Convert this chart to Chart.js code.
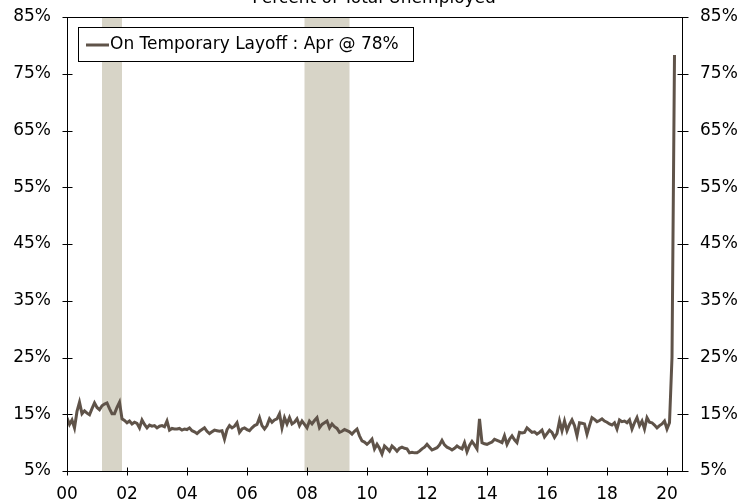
<!DOCTYPE html>
<html>
<head>
<meta charset="utf-8">
<script src="https://cdn.jsdelivr.net/npm/chart.js@4.4.1/dist/chart.umd.min.js"></script>
<style>
  html, body { margin: 0; padding: 0; background: #fff; }
  #wrap { width: 748px; height: 501px; }
</style>
</head>
<body>
<div id="wrap"><canvas id="layoffChart" width="748" height="501"></canvas></div>
<script>
// Temporary layoffs, percent of total unemployed, monthly from Jan 2000
const startYear = 2000;
const layoffShare = [
  14.4, 13.2, 14.0, 12.6, 15.5, 17.1, 15.1, 15.6, 15.2, 14.9, 16.0, 17.0, // 2000
  16.2, 15.8, 16.5, 16.8, 17.0, 16.0, 15.1, 15.1, 16.2, 17.1, 14.2, 13.9, // 2001
  13.5, 13.8, 13.3, 13.6, 13.4, 12.6, 14.0, 13.2, 12.6, 13.1, 12.9, 13.0, // 2002
  12.6, 12.9, 13.0, 12.8, 13.8, 12.2, 12.5, 12.4, 12.4, 12.5, 12.2, 12.4, // 2003
  12.3, 12.6, 12.1, 11.9, 11.6, 12.0, 12.3, 12.6, 12.0, 11.6, 11.9, 12.2, // 2004
  12.1, 12.0, 12.1, 10.6, 12.3, 13.0, 12.6, 12.9, 13.5, 11.8, 12.4, 12.6, // 2005
  12.3, 12.1, 12.6, 13.0, 13.2, 14.4, 13.0, 12.4, 13.0, 14.2, 13.6, 14.0, // 2006
  14.2, 15.1, 12.6, 14.4, 13.3, 14.4, 13.3, 13.6, 14.2, 13.0, 13.8, 13.2, // 2007
  12.6, 13.8, 13.3, 13.9, 14.4, 12.6, 13.2, 13.5, 13.8, 12.6, 13.3, 12.8, // 2008
  12.5, 11.8, 12.0, 12.3, 12.1, 11.9, 11.5, 12.0, 12.4, 11.2, 10.3, 10.1, // 2009
  9.7, 10.1, 10.6, 8.9, 9.7, 9.0, 8.0, 9.4, 9.0, 8.5, 9.4, 9.0,           // 2010
  8.5, 9.0, 9.2, 9.0, 8.9, 8.2, 8.3, 8.2, 8.2, 8.5, 8.9, 9.2,             // 2011
  9.7, 9.2, 8.7, 8.9, 9.1, 9.6, 10.4, 9.6, 9.2, 9.0, 8.7, 9.0,            // 2012
  9.4, 9.1, 8.9, 10.0, 8.4, 9.5, 10.2, 9.6, 8.9, 14.2, 10.0, 9.8,         // 2013
  9.7, 9.9, 10.1, 10.6, 10.4, 10.2, 10.0, 11.2, 9.7, 10.6, 11.2, 10.5,    // 2014
  10.0, 11.8, 11.7, 11.8, 12.6, 12.2, 11.8, 11.9, 11.5, 11.8, 12.2, 11.0, // 2015
  11.6, 12.2, 11.8, 10.9, 11.6, 13.8, 12.1, 13.8, 12.1, 13.2, 14.0, 13.0, // 2016
  11.2, 13.5, 13.4, 13.3, 11.5, 13.0, 14.4, 14.1, 13.7, 13.9, 14.2, 13.8, // 2017
  13.6, 13.3, 13.1, 13.5, 12.4, 14.0, 13.7, 13.8, 13.5, 14.0, 12.4, 13.5, // 2018
  14.4, 13.0, 13.8, 12.4, 14.4, 13.6, 13.5, 13.1, 12.6, 13.0, 13.3, 13.8, // 2019
  12.4, 13.5, 25.0, 78.3                                                  // 2020
];

const recessionStart = ['2001-03', '2007-12'];
const recessionEnd = ['2001-11', '2009-06'];

const xTickYears = [2000, 2002, 2004, 2006, 2008, 2010, 2012, 2014, 2016, 2018, 2020];
const xTickLabels = ['00', '02', '04', '06', '08', '10', '12', '14', '16', '18', '20'];
const yTicks = [5, 15, 25, 35, 45, 55, 65, 75, 85];

const legendText = 'On Temporary Layoff : Apr @ 78%';
const titleText = 'Percent of Total Unemployed';

const lineColor = '#5f5349';
const bandColor = '#d7d4c7';
const FONT = '"DejaVu Sans", Verdana, sans-serif';
const FONT_SIZE = 17;

function monthIndex(ym) {
    const parts = ym.split('-');
    return (parseInt(parts[0]) - startYear) * 12 + parseInt(parts[1]) - 1;
}

const points = layoffShare.map(function(v, i) {
    return { x: i, y: v };
});

// no extra label padding on the value axes, the frame is placed by hand
function noVerticalPadding(scale) {
    scale.paddingTop = 0;
    scale.paddingBottom = 0;
}

// shaded recession periods, behind the line
const recessionBands = {
    id: 'recessionBands',
    beforeDatasetsDraw: function(chart) {
        const ctx = chart.ctx;
        const area = chart.chartArea;
        const xs = chart.scales.x;
        ctx.save();
        ctx.fillStyle = bandColor;
        for (let i = 0; i < recessionStart.length; i++) {
            const x0 = xs.getPixelForValue(monthIndex(recessionStart[i]));
            const x1 = xs.getPixelForValue(monthIndex(recessionEnd[i]));
            ctx.fillRect(x0, area.top, x1 - x0, area.bottom - area.top);
        }
        ctx.restore();
    }
};

// frame, crossing tick marks, legend box and the clipped title
const frameAndLegend = {
    id: 'frameAndLegend',
    afterDraw: function(chart) {
        const ctx = chart.ctx;
        const a = chart.chartArea;
        const xs = chart.scales.x;
        const ys = chart.scales.y;
        const L = Math.round(a.left) + 0.5;
        const R = Math.round(a.right) - 0.5;
        const T = Math.round(a.top) + 0.5;
        const B = Math.round(a.bottom) + 0.5;
        ctx.save();
        ctx.strokeStyle = '#000';
        ctx.lineWidth = 1;
        ctx.beginPath();
        ctx.rect(L, T, R - L, B - T);
        yTicks.forEach(function(v) {
            const y = Math.round(ys.getPixelForValue(v)) + 0.5;
            ctx.moveTo(L - 5, y); ctx.lineTo(L + 5, y);
            ctx.moveTo(R - 5, y); ctx.lineTo(R + 6, y);
        });
        xTickYears.forEach(function(yr) {
            const x = Math.round(xs.getPixelForValue((yr - startYear) * 12)) + 0.5;
            ctx.moveTo(x, B - 4); ctx.lineTo(x, B + 4);
        });
        ctx.stroke();

        // legend
        ctx.fillStyle = '#fff';
        ctx.fillRect(78.5, 27.5, 335, 34);
        ctx.strokeRect(78.5, 27.5, 335, 34);
        ctx.strokeStyle = lineColor;
        ctx.lineWidth = 3;
        ctx.beginPath();
        ctx.moveTo(86, 45);
        ctx.lineTo(109, 45);
        ctx.stroke();
        ctx.fillStyle = '#000';
        ctx.font = FONT_SIZE + 'px ' + FONT;
        ctx.textAlign = 'left';
        ctx.textBaseline = 'middle';
        ctx.fillText(legendText, 110, 45);

        // title, mostly cut off by the top edge
        ctx.textAlign = 'center';
        ctx.textBaseline = 'alphabetic';
        ctx.fillText(titleText, 374, 3);
        ctx.restore();
    }
};

const ctx = document.getElementById('layoffChart').getContext('2d');
new Chart(ctx, {
    type: 'line',
    data: {
        datasets: [{
            label: legendText,
            data: points,
            borderColor: lineColor,
            borderWidth: 3,
            pointRadius: 0,
            tension: 0,
            fill: false
        }]
    },
    options: {
        responsive: false,
        animation: false,
        layout: { padding: { top: 17, left: 0, right: 0, bottom: 0 } },
        plugins: {
            legend: { display: false },
            tooltip: { enabled: false }
        },
        scales: {
            x: {
                type: 'linear',
                min: 0,
                max: 246.4,
                grid: { display: false, drawTicks: false },
                border: { display: false },
                afterBuildTicks: function(scale) {
                    scale.ticks = xTickYears.map(function(yr) {
                        return { value: (yr - startYear) * 12 };
                    });
                },
                afterFit: function(scale) {
                    scale.height = 30;
                    scale.paddingLeft = 0;
                    scale.paddingRight = 0;
                },
                ticks: {
                    padding: 13,
                    maxRotation: 0,
                    autoSkip: false,
                    color: '#000',
                    font: { family: FONT, size: FONT_SIZE },
                    callback: function(value) {
                        const i = xTickYears.indexOf(startYear + value / 12);
                        return i >= 0 ? xTickLabels[i] : '';
                    }
                }
            },
            y: {
                position: 'left',
                min: 5,
                max: 85,
                grid: { display: false, drawTicks: false },
                border: { display: false },
                afterBuildTicks: function(scale) {
                    scale.ticks = yTicks.map(function(v) { return { value: v }; });
                },
                afterFit: function(scale) {
                    scale.width = 67;
                    noVerticalPadding(scale);
                },
                ticks: {
                    padding: 16,
                    color: '#000',
                    font: { family: FONT, size: FONT_SIZE },
                    callback: function(v) { return v + '%'; }
                }
            },
            y2: {
                position: 'right',
                min: 5,
                max: 85,
                grid: { display: false, drawTicks: false },
                border: { display: false },
                afterBuildTicks: function(scale) {
                    scale.ticks = yTicks.map(function(v) { return { value: v }; });
                },
                afterFit: function(scale) {
                    scale.width = 65;
                    noVerticalPadding(scale);
                },
                ticks: {
                    padding: 17,
                    color: '#000',
                    font: { family: FONT, size: FONT_SIZE },
                    callback: function(v) { return v + '%'; }
                }
            }
        }
    },
    plugins: [recessionBands, frameAndLegend]
});
</script>
</body>
</html>
